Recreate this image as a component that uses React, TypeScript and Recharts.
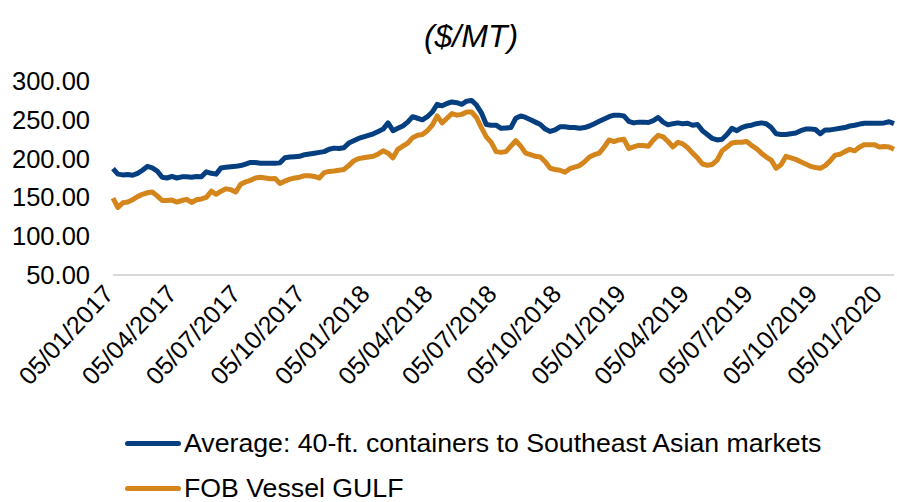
import React from 'react';
import { LineChart, Line, XAxis, YAxis } from 'recharts';

const START = Date.UTC(2017, 0, 5);
const WEEK = 7 * 24 * 3600 * 1000;

const containerValues = [
  187, 180, 179, 179.5, 178.5, 181, 185, 190, 188, 184,
  176, 175, 177, 175, 176.5, 176.5, 176, 177, 176.5, 183,
  181, 180, 188, 189, 189.5, 190, 191, 193, 195, 195,
  194, 194, 194, 194, 194.5, 201, 202, 202.5, 203, 205,
  206, 207, 208, 209, 212, 213.5, 213, 214, 220, 223,
  226, 228, 230, 232, 235, 238, 246, 236, 239, 242,
  247, 254, 252, 250, 254, 260, 270, 268, 271, 273,
  272, 270, 274, 275, 269, 259, 244, 243, 243, 239,
  239.5, 240, 252, 255, 253, 250, 247, 244, 238, 235,
  237, 241, 241, 240, 240, 239, 240, 242, 245, 248,
  251, 254, 256, 256, 255, 248, 246, 247, 247, 246.5,
  249, 253, 247, 243.5, 245, 246, 245, 245.5, 243, 244,
  236, 231, 226, 224, 225, 231, 239, 236, 240, 242,
  243, 245, 246, 245, 240, 232, 231, 231, 232, 233,
  236, 238, 238, 237.5, 232, 237, 237, 238, 239, 240,
  242, 243, 244.5, 245.5, 245.5, 245.5, 245.5, 246, 247.5, 245,
];

const gulfValues = [
  149, 137, 143, 144, 147, 151, 154, 156, 157, 152,
  146, 146, 146.5, 144, 146, 147.5, 143.5, 147, 148, 150,
  158, 154, 158, 161, 160, 157, 167, 170, 172, 175,
  176, 175, 174, 174.5, 168, 171, 173.5, 175, 176, 178,
  178, 177, 175, 182, 183.5, 184, 185, 186, 191, 197,
  200, 201, 202, 203, 206, 210, 207, 201, 212, 216,
  220, 227, 230, 231, 236, 243, 255, 246, 252, 258,
  256, 257, 260, 260, 253, 240, 228, 221, 209, 208,
  209, 216, 223, 216, 207, 205, 203, 202, 196, 187.5,
  186, 185, 182.5, 187, 189, 191, 196, 202, 205, 207,
  215, 224, 222, 224, 225, 213, 215, 217, 217, 216,
  224, 230, 228, 222, 215, 221, 219, 214, 207, 201,
  193, 191.5, 192.5, 198, 210, 215, 220, 221, 221, 222,
  217, 213, 207, 202, 198, 187.5, 192, 203, 201, 199,
  196, 193, 190, 188.5, 187.5, 191, 197, 204.5, 205.5, 209,
  212, 210, 215, 218, 218, 218, 215, 215.5, 215, 212,
];

const tickLabels = [
  '05/01/2017', '05/04/2017', '05/07/2017', '05/10/2017',
  '05/01/2018', '05/04/2018', '05/07/2018', '05/10/2018',
  '05/01/2019', '05/04/2019', '05/07/2019', '05/10/2019',
  '05/01/2020',
];

const yTicks = [50, 100, 150, 200, 250, 300];

const seriesNames = {
  container: 'Average: 40-ft. containers to Southeast Asian markets',
  gulf: 'FOB Vessel GULF',
};

const BLUE = '#063f7f';
const ORANGE = '#d4851b';
const FONT = '"Liberation Sans", Arial, sans-serif';

const parseDate = (s: string) => {
  const [d, m, y] = s.split('/').map(Number);
  return Date.UTC(y, m - 1, d);
};

const formatDate = (t: number) => {
  const dt = new Date(t);
  const dd = String(dt.getUTCDate()).padStart(2, '0');
  const mm = String(dt.getUTCMonth() + 1).padStart(2, '0');
  return `${dd}/${mm}/${dt.getUTCFullYear()}`;
};

const tickValues = tickLabels.map(parseDate);

const data = containerValues.map((v, i) => ({
  t: START + i * WEEK,
  container: v,
  gulf: gulfValues[i],
}));

const XTick = (props: any) => {
  const { x, y, payload } = props;
  return (
    <g transform={`translate(${x + 2},${y + 12})`}>
      <text
        x={0}
        y={0}
        textAnchor="end"
        transform="rotate(-47)"
        fontSize={25}
        fontFamily={FONT}
        fill="#000"
      >
        {formatDate(payload.value)}
      </text>
    </g>
  );
};

const LegendRow = ({ color, label }: { color: string; label: string }) => (
  <div style={{ display: 'flex', alignItems: 'center', height: 45 }}>
    <div style={{ width: 56, height: 5, background: color, borderRadius: 3, marginRight: 3 }} />
    <span style={{ fontSize: 26.7, fontFamily: FONT, color: '#000', whiteSpace: 'nowrap' }}>{label}</span>
  </div>
);

export default function App() {
  return (
    <div style={{ position: 'absolute', left: 0, top: 0, width: 897, height: 502, background: '#fff', overflow: 'hidden' }}>
      <div
        style={{
          position: 'absolute',
          left: 321,
          width: 300,
          top: 14,
          textAlign: 'center',
          fontSize: 32,
          fontStyle: 'italic',
          fontFamily: FONT,
          color: '#000',
          lineHeight: '44px',
        }}
      >
        ($/MT)
      </div>
      <LineChart
        width={897}
        height={502}
        data={data}
        margin={{ top: 81, right: 3, bottom: 197, left: 0 }}
      >
        <XAxis
          dataKey="t"
          type="number"
          domain={[data[0].t, data[data.length - 1].t]}
          ticks={tickValues}
          interval={0}
          tick={<XTick />}
          tickLine={false}
          axisLine={{ stroke: '#d9d9d9', strokeWidth: 2 }}
          height={30}
        />
        <YAxis
          type="number"
          domain={[50, 300]}
          ticks={yTicks}
          interval={0}
          width={113}
          axisLine={false}
          tickLine={false}
          tickMargin={17}
          tickFormatter={(v: number) => v.toFixed(2)}
          tick={{ fontSize: 25.5, fontFamily: FONT, fill: '#000' }}
        />
        <Line
          type="linear"
          dataKey="gulf"
          name={seriesNames.gulf}
          stroke={ORANGE}
          strokeWidth={5}
          dot={false}
          strokeLinejoin="round"
          isAnimationActive={false}
        />
        <Line
          type="linear"
          dataKey="container"
          name={seriesNames.container}
          stroke={BLUE}
          strokeWidth={5}
          dot={false}
          strokeLinejoin="round"
          isAnimationActive={false}
        />
      </LineChart>
      <div style={{ position: 'absolute', left: 125, top: 421 }}>
        <LegendRow color={BLUE} label={seriesNames.container} />
        <LegendRow color={ORANGE} label={seriesNames.gulf} />
      </div>
    </div>
  );
}
